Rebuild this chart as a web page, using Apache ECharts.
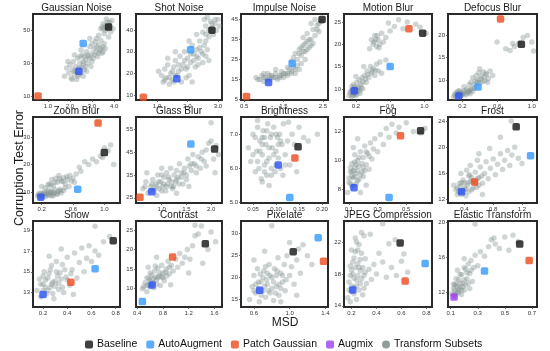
<!DOCTYPE html>
<html><head><meta charset="utf-8">
<script src="https://cdn.jsdelivr.net/npm/echarts@6/dist/echarts.min.js"></script>
<style>html,body{margin:0;padding:0;background:#fff}#c{width:550px;height:351px}</style>
</head><body><div id="c"></div>
<script>
const titles = ['Gaussian Noise','Shot Noise','Impulse Noise','Motion Blur','Defocus Blur','Zoom Blur','Glass Blur','Brightness','Fog','Frost','Snow','Contrast','Pixelate','JPEG Compression','Elastic Transform'];
const xRanges = [[0.32,4.27],[0.31,3.13],[0.42,2.63],[0.06,1.09],[0.035,1.06],[0.09,1.2],[0.48,2.22],[0.024,0.213],[0.065,0.68],[0.17,1.41],[0.117,0.836],[0.38,1.72],[0.455,1.43],[0.14,0.845],[0.08,0.738]];
const yRanges = [[7.5,60],[7.7,47.5],[4.75,47.7],[7.5,26.8],[5.5,24.8],[6,37.2],[22.7,60.5],[4.99,7.5],[7.07,13],[11.5,24.6],[11.6,19.9],[5.3,27.3],[13.3,32.9],[13.85,24.65],[10.26,20.15]];
const xTicks = [['1.0','2.0','3.0','4.0'],['1.0','2.0','3.0'],['0.5','1.5','2.5'],['0.2','0.6','1.0'],['0.2','0.6','1.0'],['0.2','0.6','1.0'],['1.0','1.5','2.0'],['0.05','0.10','0.15','0.20'],['0.1','0.3','0.5'],['0.4','0.8','1.2'],['0.2','0.4','0.6','0.8'],['0.4','0.8','1.2','1.6'],['0.6','1.0','1.4'],['0.2','0.4','0.6','0.8'],['0.1','0.3','0.5','0.7']];
const yTicks = [['10','30','50'],['10','20','30','40'],['5','15','25','35','45'],['10','15','20','25'],['10','15','20'],['10','20','30'],['25','35','45','55'],['5.0','6.0','7.0'],['8','10','12'],['12','16','20','24'],['13','15','17','19'],['10','15','20','25'],['15','20','25','30'],['14','18','22'],['12','16','20']];

const cloudGN = [[1.75,22],[1.85,27],[1.95,24],[2.0,29],[2.05,21],[2.1,26],[2.15,31],[2.2,23],[2.25,28],[2.3,20],[2.35,33],[2.4,27],[2.45,30],[2.5,24],[2.55,35],[2.6,29],[2.65,26],[2.7,32],[2.75,37],[2.8,30],[2.85,34],[2.9,40],[2.95,28],[3.0,36],[3.05,33],[3.1,39],[3.15,43],[3.2,37],[3.25,34],[3.3,41],[3.35,38],[3.4,44],[3.45,36],[3.5,40],[3.55,42],[3.3,47],[3.4,51],[3.5,54],[3.6,50],[3.7,55],[3.8,53],[3.9,56],[3.55,48],[3.45,52],[3.65,57],[3.85,49],[3.95,51],[3.2,45],[2.9,45],[2.5,38],[2.2,35],[1.9,31],[3.75,46],[2.6,22],[2.75,25],
  [2.3,25],[2.4,23],[2.5,27],[2.6,31],[2.7,28],[2.8,35],[2.9,33],[3.0,31],[3.1,35],[3.2,40],[3.3,36],[3.4,39],[3.5,37],[3.6,39],[3.5,51],[3.6,53],[3.7,51],[3.8,55],[2.2,25],[2.35,22],[2.45,34],[2.65,34],[3.0,42],[2.1,20]];
const cloudSN = [[1.15,19],[1.2,16],[1.25,22],[1.3,18],[1.35,24],[1.4,15],[1.45,20],[1.5,17],[1.55,23],[1.6,26],[1.65,19],[1.7,21],[1.75,28],[1.8,16],[1.85,24],[1.9,30],[1.95,22],[2.0,27],[2.05,19],[2.1,25],[2.15,33],[2.2,29],[2.25,23],[2.3,31],[2.35,27],[2.4,35],[2.45,30],[2.5,25],[2.55,33],[2.6,28],[2.65,31],[2.5,39],[2.6,42],[2.7,37],[2.75,44],[2.8,41],[2.85,38],[2.9,43],[2.95,40],[3.0,45],[2.55,45],[2.65,46],[3.05,42],[2.3,38],[2.05,35],[1.35,27],[1.6,30],[2.7,26],[2.15,16],[1.05,21],
  [1.4,18],[1.5,21],[1.6,19],[1.7,24],[1.8,22],[1.9,26],[2.0,23],[2.1,29],[2.2,26],[2.3,28],[2.4,32],[2.5,29],[2.6,35],[2.7,40],[2.8,43],[2.9,45],[2.6,38],[1.55,16],[1.25,17],[1.95,18],[2.35,24]];
const cloudIN = [[0.8,16],[0.9,15],[0.95,17],[1.0,14],[1.05,16],[1.1,18],[1.15,15],[1.2,17],[1.25,16],[1.3,18],[1.35,15],[1.4,17],[1.45,19],[1.5,16],[1.55,18],[1.6,17],[1.65,20],[1.7,19],[1.75,21],[1.8,18],[1.85,22],[1.9,20],[1.7,24],[1.75,26],[1.8,28],[1.85,25],[1.9,30],[1.95,27],[2.0,32],[2.05,29],[2.1,34],[2.15,31],[2.0,36],[2.1,38],[2.2,35],[2.25,40],[2.3,37],[2.35,42],[2.4,39],[2.45,44],[2.2,43],[2.3,45],[1.95,23],[1.6,21],[1.3,20],[1.0,18],[2.25,33],[2.05,25],
  [1.0,16],[1.1,15],[1.2,16],[1.3,16],[1.4,16],[1.5,18],[1.6,18],[1.7,18],[1.8,20],[1.9,28],[1.95,31],[2.0,29],[2.05,33],[2.1,30],[2.15,35],[2.2,32],[2.35,40],[2.4,43],[0.85,15],[1.15,17],[1.45,17]];
const cloudMB = [[0.12,8.5],[0.14,9.5],[0.15,10.5],[0.16,8.8],[0.17,11],[0.18,9],[0.19,10],[0.2,8.5],[0.21,11.5],[0.22,9.5],[0.23,10.5],[0.24,12],[0.25,9],[0.26,11],[0.27,12.5],[0.28,10],[0.3,13],[0.32,11.5],[0.33,14],[0.35,12.5],[0.37,15],[0.38,13.5],[0.4,14.5],[0.42,13],[0.44,15.5],[0.46,14],[0.48,16],[0.5,13.5],[0.36,19],[0.38,21],[0.4,20],[0.42,22],[0.44,19.5],[0.46,21],[0.48,20],[0.5,22.5],[0.52,20.5],[0.55,21.5],[0.6,23],[0.65,24],[0.7,25.5],[0.75,23.5],[0.8,25],[0.9,24.5],[0.95,23.8],[1.02,22.5],[0.58,24.8],[0.29,15],[0.2,12.8],[0.55,16.5],
  [0.13,9.2],[0.15,8.3],[0.16,9.8],[0.17,8.5],[0.18,10.5],[0.19,9.2],[0.2,9.8],[0.21,8.8],[0.22,10.2],[0.24,9.5],[0.26,10.2],[0.28,11.5],[0.31,12.2],[0.34,13.2],[0.39,14],[0.43,14.2],[0.41,20.5],[0.45,22],[0.43,21],[0.47,19.2]];
const cloudDB = [[0.1,6.2],[0.12,7],[0.14,6.5],[0.15,7.5],[0.17,6.3],[0.18,7.2],[0.2,6.8],[0.22,7.6],[0.24,6.6],[0.25,7.9],[0.27,7.1],[0.29,6.9],[0.3,7.8],[0.32,7.4],[0.34,8.2],[0.3,9.5],[0.32,10.5],[0.34,9],[0.36,11],[0.38,10],[0.4,9.3],[0.42,10.8],[0.44,11.8],[0.46,9.8],[0.48,11.2],[0.5,10.3],[0.52,12],[0.55,11],[0.35,9.8],[0.28,9],[0.6,18.5],[0.7,17],[0.75,16.6],[0.8,17.5],[0.85,18.2],[0.9,19.5],[0.95,20],[1.0,18.5],[1.02,16.5],[0.78,18.2],[0.4,12.5],[0.22,8.5],
  [0.11,6.6],[0.13,6.2],[0.14,7.2],[0.16,6.8],[0.17,7.6],[0.19,6.5],[0.21,7.1],[0.23,6.9],[0.26,7.4],[0.28,7.6],[0.31,8.1],[0.37,9.4],[0.41,10.2],[0.43,9.6],[0.45,10.6],[0.47,11.5],[0.39,11.6],[0.49,9.5]];
const cloudZB = [[0.15,8.5],[0.17,9.5],[0.19,8],[0.21,9],[0.23,10],[0.25,8.3],[0.27,9.2],[0.29,10.5],[0.31,8.7],[0.33,9.8],[0.35,9],[0.37,10.8],[0.39,9.4],[0.41,10.2],[0.43,11],[0.45,9.6],[0.48,10.5],[0.5,11.5],[0.2,12],[0.25,11.5],[0.3,13],[0.33,14.5],[0.35,12.2],[0.38,15],[0.4,13.5],[0.42,16],[0.45,14],[0.48,15.2],[0.5,13],[0.53,14.5],[0.56,16],[0.6,15],[0.64,16.5],[0.7,17.5],[0.75,21],[0.8,20],[0.85,22],[0.9,21],[0.95,23],[1.0,26],[1.05,25],[1.08,27],[1.12,20],[0.98,22.5],[0.68,19],[0.55,12],[0.28,12.5],
  [0.16,9],[0.18,8.6],[0.2,9.5],[0.22,8.4],[0.24,9.3],[0.26,10],[0.28,8.8],[0.3,9.6],[0.32,10.3],[0.34,8.5],[0.36,9.8],[0.4,9.2],[0.44,10.4],[0.32,12.5],[0.37,13.5],[0.43,14.8],[0.47,13.8],[0.52,15.5],[0.58,14],[0.62,13.5]];
const cloudGB = [[0.62,29],[0.68,32],[0.72,27],[0.78,30],[0.82,33],[0.85,28],[0.88,31],[0.92,35],[0.95,29],[0.98,32],[1.02,30],[1.05,34],[1.08,28],[1.1,36],[1.12,31],[1.15,33],[1.18,38],[1.2,30],[1.25,35],[1.28,32],[1.3,37],[1.33,34],[1.36,40],[1.4,36],[1.43,31],[1.46,38],[1.5,35],[1.53,42],[1.56,39],[1.6,37],[1.63,44],[1.66,40],[1.7,36],[1.74,43],[1.78,38],[1.82,45],[1.86,41],[1.9,39],[1.95,49],[2.0,50],[2.05,42],[2.1,48],[2.15,44],[2.0,58],[1.3,27],[0.7,36],[1.0,38],[1.55,30],[2.08,36],[0.9,26],
  [0.75,28],[0.8,31],[0.84,29],[0.9,30],[0.94,32],[1.0,28],[1.04,31],[1.1,30],[1.14,34],[1.2,32],[1.24,30],[1.3,33],[1.35,31],[1.4,34],[1.45,36],[1.5,33],[1.6,40],[1.7,39],[1.8,42],[0.66,30],[1.0,35],[1.22,29],[1.9,46]];
const cloudBR = [[0.04,6.6],[0.045,6.2],[0.05,7.0],[0.055,5.9],[0.058,6.5],[0.06,7.2],[0.063,6.0],[0.065,6.8],[0.068,5.7],[0.07,6.4],[0.072,7.1],[0.075,6.1],[0.078,6.7],[0.08,5.8],[0.082,7.3],[0.085,6.3],[0.088,6.9],[0.09,6.0],[0.092,6.6],[0.095,7.2],[0.098,5.9],[0.1,6.5],[0.103,6.9],[0.105,6.3],[0.108,7.0],[0.11,6.0],[0.113,6.7],[0.116,7.3],[0.12,6.4],[0.125,6.8],[0.13,6.1],[0.135,7.0],[0.14,6.7],[0.145,5.9],[0.15,7.2],[0.16,6.9],[0.17,6.8],[0.19,7.0],[0.055,6.9],[0.07,5.6],[0.06,7.4],[0.115,5.8],[0.127,7.35],[0.085,5.5],
  [0.05,6.4],[0.06,6.2],[0.07,6.7],[0.075,6.9],[0.08,6.2],[0.085,6.6],[0.09,7.0],[0.095,6.4],[0.1,6.1],[0.1,7.0],[0.105,6.7],[0.065,6.5],[0.075,5.9],[0.09,5.8],[0.11,6.8],[0.12,6.1],[0.08,7.1],[0.07,6.9]];
const cloudFG = [[0.09,7.8],[0.1,8.5],[0.11,9.2],[0.12,8.2],[0.12,9.8],[0.13,8.8],[0.14,9.5],[0.14,10.4],[0.15,8.4],[0.15,9.1],[0.16,10.0],[0.17,8.7],[0.17,9.6],[0.18,10.6],[0.19,9.2],[0.2,10.2],[0.2,8.9],[0.21,11.0],[0.22,9.7],[0.23,10.5],[0.24,9.4],[0.25,11.2],[0.26,10.1],[0.27,10.8],[0.28,11.5],[0.3,10.6],[0.32,11.8],[0.34,11.1],[0.36,12.2],[0.38,11.6],[0.4,12.5],[0.43,11.9],[0.45,12.3],[0.5,12.6],[0.55,12.0],[0.6,11.9],[0.63,12.2],[0.13,10.9],[0.18,7.8],[0.22,8.3],[0.11,9.5],[0.16,11.5],
  [0.1,8.8],[0.11,8.4],[0.12,8.9],[0.13,9.3],[0.13,8.3],[0.14,8.9],[0.15,9.7],[0.16,8.6],[0.16,9.3],[0.17,10.2],[0.18,9.0],[0.19,9.8],[0.21,9.3],[0.22,10.6],[0.24,10.3],[0.12,9.2],[0.14,9.9],[0.2,9.5]];
const cloudFR = [[0.28,13.5],[0.3,12.8],[0.33,14.5],[0.35,13.2],[0.38,15],[0.4,13.8],[0.42,12.6],[0.45,14.6],[0.47,15.8],[0.5,13.5],[0.52,14.9],[0.55,16.2],[0.57,13.9],[0.6,15.4],[0.62,17],[0.65,14.5],[0.68,16],[0.7,17.8],[0.73,15.2],[0.76,16.8],[0.8,18.2],[0.83,15.8],[0.86,17.4],[0.9,19],[0.93,16.6],[0.96,18],[1.0,19.5],[1.03,17.2],[1.06,18.8],[1.1,20],[1.15,18.3],[1.2,17.5],[1.05,24],[0.6,19],[0.75,19.8],[0.35,16],[0.48,17.2],[0.25,14.2],[0.65,12.8],[0.9,21.5],[0.43,16.5],[0.58,18],
  [0.3,13.8],[0.32,13.2],[0.34,14],[0.36,14.6],[0.38,13.4],[0.4,14.6],[0.42,13.6],[0.44,14.2],[0.46,13.2],[0.48,14.8],[0.5,15.4],[0.52,13.8],[0.55,14.6],[0.58,15.2],[0.6,14.2],[0.64,15.6],[0.36,12.8],[0.46,15.6]];
const cloudSW = [[0.15,13.2],[0.17,14.3],[0.18,12.6],[0.2,13.8],[0.21,15.0],[0.23,12.9],[0.24,14.4],[0.26,13.5],[0.27,15.6],[0.29,12.4],[0.3,14.1],[0.31,16.0],[0.33,13.3],[0.34,14.9],[0.36,15.7],[0.37,13.0],[0.39,14.5],[0.4,16.4],[0.42,13.7],[0.44,15.2],[0.46,16.8],[0.48,14.4],[0.5,15.9],[0.52,17.3],[0.54,15.0],[0.56,16.3],[0.58,17.5],[0.6,16.0],[0.63,17.0],[0.66,16.6],[0.7,17.9],[0.75,18.4],[0.63,19.4],[0.25,16.5],[0.45,12.8],[0.35,17.2],[0.22,13.5],[0.28,14.0],
  [0.18,13.8],[0.2,13.2],[0.22,14.2],[0.24,13.2],[0.25,14.8],[0.27,13.8],[0.28,12.9],[0.3,13.6],[0.32,14.6],[0.33,13.9],[0.35,14.3],[0.36,13.5],[0.38,15.2],[0.4,14.2],[0.26,15.2],[0.31,15],[0.2,14.6],[0.43,14.8]];
const cloudCT = [[0.48,10],[0.52,11.5],[0.55,9.2],[0.58,12.5],[0.6,10.5],[0.62,13.5],[0.65,11.5],[0.67,14.5],[0.7,12.3],[0.72,15.2],[0.74,13.2],[0.76,10.8],[0.78,16],[0.8,14],[0.82,12],[0.85,15],[0.88,17],[0.9,13.8],[0.93,16],[0.96,14.5],[1.0,17.5],[1.03,15.5],[1.06,19],[1.1,16.5],[1.14,18],[1.18,20],[1.22,17.5],[1.26,21],[1.3,23.5],[1.35,24],[1.4,26],[1.3,26.2],[1.5,20],[1.55,24.5],[1.62,22],[1.42,16.5],[1.2,14],[0.7,18],[0.57,15.5],[0.92,11],
  [0.5,10.5],[0.55,10.8],[0.58,11],[0.6,12],[0.62,11],[0.64,12.5],[0.66,10.2],[0.68,13],[0.7,11.2],[0.72,12.8],[0.75,14],[0.78,13],[0.8,12.8],[0.84,14.2],[0.86,13.2],[0.9,15.5],[0.55,12.8],[0.68,15.8],[0.6,14]];
const cloudPX = [[0.55,15],[0.58,18],[0.6,20.5],[0.62,16.5],[0.64,22],[0.66,14.5],[0.68,19],[0.7,17],[0.71,21.5],[0.73,15.5],[0.75,18.5],[0.77,23],[0.78,16.5],[0.8,20],[0.82,14.8],[0.83,22],[0.85,18],[0.87,24.5],[0.88,16],[0.9,21],[0.92,19],[0.94,23],[0.95,17],[0.97,25],[1.0,20.5],[1.02,22.5],[1.05,18.5],[1.08,24],[1.1,26.5],[1.12,21],[1.15,27.5],[1.2,25],[1.25,23],[1.0,28],[0.8,31.8],[0.6,24],[0.72,26],[0.9,14.5],[1.08,16],[0.65,17.5],[0.85,20.5],[0.75,21],
  [0.6,17],[0.65,19],[0.68,16],[0.7,20],[0.72,18],[0.74,19.5],[0.76,17],[0.78,20.5],[0.8,17.5],[0.82,19],[0.84,16.5],[0.86,21.5],[0.88,18.5],[0.9,17.5],[0.92,20.5],[0.96,19.5],[0.62,18.5],[0.73,22.5],[0.67,20.8]];
const cloudJP = [[0.17,15],[0.18,17],[0.19,19],[0.2,15.8],[0.2,21],[0.21,18],[0.22,16.3],[0.22,20],[0.23,22.5],[0.24,17.2],[0.24,14.8],[0.25,19.3],[0.26,21.7],[0.26,16],[0.27,18.4],[0.28,20.6],[0.29,15.4],[0.3,17.8],[0.31,19.9],[0.32,16.8],[0.34,18.6],[0.36,17.3],[0.38,19.2],[0.4,18],[0.42,20.6],[0.45,19.5],[0.48,17.6],[0.5,21.8],[0.52,18.8],[0.56,17.8],[0.6,19.6],[0.65,18.2],[0.62,20.5],[0.45,24.3],[0.35,23],[0.55,22.3],[0.3,22.8],[0.19,14.5],[0.28,23.2],
  [0.18,16],[0.19,17.8],[0.2,16.5],[0.21,19.5],[0.22,15.5],[0.22,17.5],[0.23,18.8],[0.23,20.8],[0.24,16.5],[0.25,17.8],[0.25,21],[0.26,18.8],[0.27,16.8],[0.27,19.8],[0.28,17.4],[0.29,18.8],[0.3,16.2],[0.31,18.2],[0.24,22],[0.2,18.5]];
const cloudEL = [[0.11,11.8],[0.12,12.4],[0.13,11.5],[0.14,12.9],[0.15,12.0],[0.16,13.4],[0.17,12.5],[0.18,11.7],[0.18,14],[0.19,13],[0.2,12.2],[0.21,14.6],[0.22,13.5],[0.23,15.2],[0.24,14.1],[0.25,15.6],[0.26,13.2],[0.27,14.8],[0.28,16.2],[0.3,15.0],[0.32,16.6],[0.35,16.1],[0.38,17.2],[0.4,18.0],[0.43,17.5],[0.46,17.0],[0.5,18.3],[0.53,16.8],[0.56,18.5],[0.6,17.8],[0.28,19.8],[0.15,14.5],[0.2,15.8],[0.13,12.8],[0.24,12.4],[0.42,18.2],
  [0.12,11.6],[0.13,12.2],[0.14,11.8],[0.15,12.6],[0.16,11.9],[0.17,13],[0.18,12.2],[0.19,12.6],[0.2,13.4],[0.21,12.8],[0.22,14.2],[0.23,13],[0.14,13.5],[0.17,14],[0.2,14.8],[0.25,14.5],[0.16,12.3],[0.12,12.9]];
const clouds = [cloudGN,cloudSN,cloudIN,cloudMB,cloudDB,cloudZB,cloudGB,cloudBR,cloudFG,cloudFR,cloudSW,cloudCT,cloudPX,cloudJP,cloudEL];

const baseline = [[3.75,52],[2.8,40],[2.48,45],[0.98,22.5],[0.88,18],[1.0,24.3],[2.07,46.4],[0.148,6.63],[0.6,12.05],[1.12,23.1],[0.78,18],[1.46,21.5],[1.04,25.9],[0.59,21.9],[0.61,17.5]];
const autoAugment = [[2.6,42],[2.1,31],[1.72,23],[0.6,15],[0.38,8.4],[0.66,11],[1.59,48.6],[0.13,5.15],[0.38,7.45],[1.32,18.7],[0.63,15.3],[0.48,6.7],[1.32,29.1],[0.79,19.3],[0.35,14.4]];
const patchGaussian = [[0.55,10],[0.55,9],[0.56,6.5],[0.82,23.5],[0.64,23.7],[0.92,35],[0.56,25.2],[0.141,6.3],[0.46,11.7],[0.54,14.7],[0.43,14],[0.95,18.1],[1.38,23.7],[0.63,17.1],[0.68,15.6]];
const augmix = [[2.4,25],[1.65,17.5],[1.12,13.5],[0.18,9.6],[0.16,6.4],[0.19,8.1],[0.8,27.6],[0.105,6.1],[0.135,8.13],[0.36,13.2],[0.2,12.8],[0.63,10.9],[0.665,17.1],[0.21,16],[0.125,11.4]];

const colL = [33,136,241,344,448], colW = [87,86,87,88,89], rowT = [14,117,221], H = 86;
const FONT = 'Liberation Sans, Arial, Helvetica, sans-serif';
const C = {base:'#111111', aa:'#3399ff', pg:'#ee4a1e', am:'#9b3df2', amBlue:'#2a52f7', cloud:'#7a8b88'};

const grid = [], xAxis = [], yAxis = [], series = [], graphic = [];
function fmt(list){ return v => { for (const s of list) if (Math.abs(parseFloat(s)-v) < 1e-9) return s; return String(v); }; }
for (let i = 0; i < 15; i++) {
  const r = Math.floor(i/5), c = i%5;
  grid.push({left: colL[c], top: rowT[r], width: colW[c], height: H, show: true, borderColor: '#2a2a2a', borderWidth: 2, backgroundColor: 'transparent', containLabel: false});
  const xv = xTicks[i].map(parseFloat), yv = yTicks[i].map(parseFloat);
  xAxis.push({type:'value', gridIndex:i, min:xRanges[i][0], max:xRanges[i][1], splitLine:{show:false}, axisLine:{show:false},
    axisTick:{show:true, length:2, customValues:xv, lineStyle:{color:'#444', width:0.8}},
    axisLabel:{customValues:xv, formatter:fmt(xTicks[i]), fontSize:6, color:'#333', margin:3, fontFamily:FONT}});
  yAxis.push({type:'value', gridIndex:i, min:yRanges[i][0], max:yRanges[i][1], splitLine:{show:false}, axisLine:{show:false},
    axisTick:{show:true, length:2, customValues:yv, lineStyle:{color:'#444', width:0.8}},
    axisLabel:{customValues:yv, formatter:fmt(yTicks[i]), fontSize:6, color:'#333', margin:3, fontFamily:FONT}});
  series.push({name:'Transform Subsets', type:'scatter', xAxisIndex:i, yAxisIndex:i, data:clouds[i], symbol:'circle', symbolSize:5.5, silent:true,
    itemStyle:{color:C.cloud, opacity:0.36}, z:1});
  const amColor = (i === 14) ? C.am : C.amBlue;
  series.push({name:'Augmix', type:'scatter', xAxisIndex:i, yAxisIndex:i, symbol:'roundRect', symbolSize:7.5, silent:true, itemStyle:{color:C.am}, z:3,
    data:[{value:augmix[i], itemStyle:{color:amColor}}]});
  series.push({name:'Patch Gaussian', type:'scatter', xAxisIndex:i, yAxisIndex:i, symbol:'roundRect', symbolSize:7.5, silent:true, itemStyle:{color:C.pg}, z:3, data:[patchGaussian[i]]});
  series.push({name:'AutoAugment', type:'scatter', xAxisIndex:i, yAxisIndex:i, symbol:'roundRect', symbolSize:7.5, silent:true, itemStyle:{color:C.aa}, z:3, data:[autoAugment[i]]});
  series.push({name:'Baseline', type:'scatter', xAxisIndex:i, yAxisIndex:i, symbol:'roundRect', symbolSize:7.5, silent:true, itemStyle:{color:C.base}, z:4, data:[baseline[i]]});
  graphic.push({type:'text', x: colL[c] + colW[c]/2, y: rowT[r] - 6, style:{text: titles[i], fontSize:10, fill:'#1a1a1a', fontFamily:FONT, align:'center', verticalAlign:'middle'}});
}
graphic.push({type:'text', x:285, y:323, style:{text:'MSD', fontSize:12, fill:'#1a1a1a', fontFamily:FONT, align:'center', verticalAlign:'middle'}});
graphic.push({type:'text', x:20, y:168, rotation:Math.PI/2, style:{text:'Corruption Test Error', fontSize:12.5, fill:'#1a1a1a', fontFamily:FONT, align:'center', verticalAlign:'middle'}});

const chart = echarts.init(document.getElementById('c'), null, {renderer:'canvas'});
chart.setOption({
  animation:false,
  backgroundColor:'#ffffff',
  grid, xAxis, yAxis, series, graphic,
  legend:{left:80, top:334, itemWidth:8, itemHeight:8, itemGap:9, textStyle:{fontSize:10.5, color:'#111', fontFamily:FONT, padding:[0,0,0,-1]},
    data:[{name:'Baseline'},{name:'AutoAugment'},{name:'Patch Gaussian'},{name:'Augmix'},{name:'Transform Subsets', icon:'circle', itemStyle:{color:'#8e9c9a', opacity:1}}]}
});
</script></body></html>
